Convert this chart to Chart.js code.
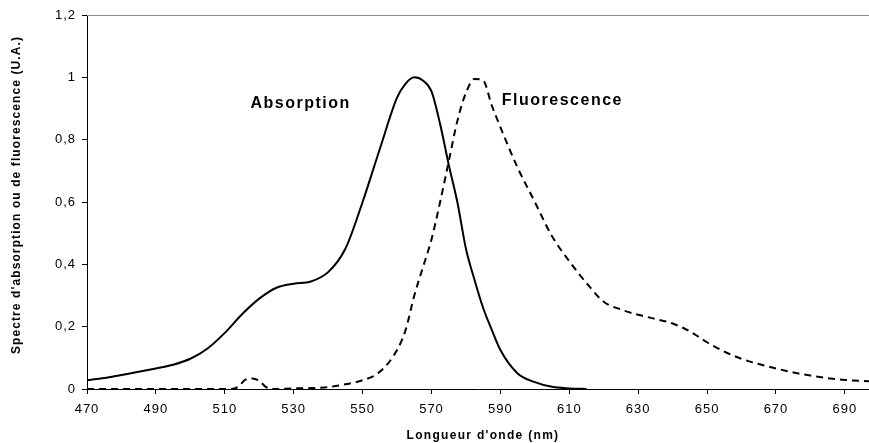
<!DOCTYPE html>
<html>
<head>
<meta charset="utf-8">
<script src="https://cdn.jsdelivr.net/npm/chart.js@4"></script>
<style>
  body { margin: 0; background: #fff; }
</style>
</head>
<body>
<canvas id="grafico" width="869" height="443"></canvas>
<script>
// Spectre d'absorption (trait plein)
const absX = [470, 475, 480, 485, 490, 495, 500, 505, 510, 515, 520, 525, 530, 535, 540, 545, 550, 555, 560, 562.5, 565, 567.5, 570, 572.5, 575, 577.5, 580, 582.5, 585, 587.5, 590, 595, 600, 605, 610, 615];
const absY = [0.028, 0.035, 0.045, 0.055, 0.066, 0.078, 0.097, 0.13, 0.18, 0.24, 0.29, 0.325, 0.338, 0.345, 0.375, 0.45, 0.6, 0.77, 0.935, 0.98, 1.0, 0.99, 0.955, 0.85, 0.72, 0.6, 0.45, 0.35, 0.26, 0.19, 0.125, 0.05, 0.022, 0.007, 0.002, 0];

// Spectre de fluorescence (pointillés)
const fluoX = [470, 512, 514, 516, 518, 520, 522, 524, 530, 535, 540, 545, 550, 555, 560, 562.5, 565, 567.5, 570, 572.5, 575, 577.5, 580, 582.5, 585, 587.5, 590, 595, 600, 605, 610, 615, 620, 625, 630, 635, 640, 645, 650, 655, 660, 665, 670, 675, 680, 685, 690, 697];
const fluoY = [0, 0, 0.008, 0.03, 0.034, 0.026, 0.006, 0, 0.002, 0.003, 0.006, 0.015, 0.028, 0.055, 0.125, 0.19, 0.3, 0.39, 0.48, 0.6, 0.73, 0.86, 0.95, 0.995, 0.99, 0.91, 0.84, 0.71, 0.6, 0.49, 0.41, 0.34, 0.28, 0.255, 0.238, 0.225, 0.21, 0.185, 0.15, 0.12, 0.097, 0.08, 0.066, 0.053, 0.043, 0.035, 0.029, 0.025];

// Graduations
const xTicks = [470, 490, 510, 530, 550, 570, 590, 610, 630, 650, 670, 690];
const yTicks = [0, 0.2, 0.4, 0.6, 0.8, 1, 1.2];

const police = '"Liberation Sans", Arial, sans-serif';

// Textes : titres des axes et étiquettes des courbes
const textes = {
  id: "textes",
  beforeDraw(chart) {
    chart.ctx.letterSpacing = "1px";
  },
  afterDraw(chart) {
    const ctx = chart.ctx;
    const area = chart.chartArea;
    const x = chart.scales.x;
    const y = chart.scales.y;
    ctx.save();

    // bord supérieur gris
    ctx.strokeStyle = "#8c8c8c";
    ctx.lineWidth = 1;
    ctx.beginPath();
    ctx.moveTo(area.left, area.top + 0.5);
    ctx.lineTo(area.right, area.top + 0.5);
    ctx.stroke();

    ctx.fillStyle = "#000";
    ctx.font = "bold 12px " + police;
    ctx.letterSpacing = "1.3px";
    ctx.textAlign = "center";
    ctx.textBaseline = "alphabetic";
    ctx.fillText("Longueur d'onde (nm)", (area.left + area.right) / 2 + 5, 439);

    ctx.save();
    ctx.translate(20, (area.top + area.bottom) / 2 - 7);
    ctx.rotate(-Math.PI / 2);
    ctx.letterSpacing = "1.1px";
    ctx.fillText("Spectre d'absorption ou de fluorescence (U.A.)", 0, 0);
    ctx.restore();

    ctx.font = "bold 16px " + police;
    ctx.letterSpacing = "1.5px";
    ctx.fillText("Absorption", x.getPixelForValue(532), y.getPixelForValue(0.903));
    ctx.fillText("Fluorescence", x.getPixelForValue(608), y.getPixelForValue(0.91));
    ctx.restore();
  }
};

const ctx = document.getElementById("grafico").getContext("2d");
new Chart(ctx, {
  type: "line",
  data: {
    datasets: [
      {
        label: "Absorption",
        data: absX.map((v, i) => ({ x: v, y: absY[i] })),
        borderColor: "#000",
        borderWidth: 2,
        pointRadius: 0,
        cubicInterpolationMode: "monotone"
      },
      {
        label: "Fluorescence",
        data: fluoX.map((v, i) => ({ x: v, y: fluoY[i] })),
        borderColor: "#000",
        borderWidth: 2,
        borderDash: [7, 5],
        pointRadius: 0,
        cubicInterpolationMode: "monotone"
      }
    ]
  },
  options: {
    responsive: false,
    animation: false,
    layout: { padding: { top: 15, right: 0, left: 0, bottom: 0 } },
    plugins: { legend: { display: false }, tooltip: { enabled: false } },
    scales: {
      x: {
        type: "linear",
        min: 470,
        max: 697,
        afterBuildTicks: s => { s.ticks = xTicks.map(v => ({ value: v })); },
        afterFit: s => { s.height = 54; },
        grid: { drawOnChartArea: false, tickLength: 5, color: "#000" },
        border: { color: "#000", width: 1 },
        ticks: { color: "#000", font: { family: police, size: 13 }, padding: 8, maxRotation: 0 }
      },
      y: {
        min: 0,
        max: 1.2,
        afterBuildTicks: s => { s.ticks = yTicks.map(v => ({ value: v })); },
        afterFit: s => { s.width = 87; },
        grid: { drawOnChartArea: false, tickLength: 5, color: "#000" },
        border: { color: "#000", width: 1 },
        ticks: {
          color: "#000",
          font: { family: police, size: 13 },
          padding: 6,
          callback: v => String(v).replace(".", ",")
        }
      }
    }
  },
  plugins: [textes]
});
</script>
</body>
</html>
